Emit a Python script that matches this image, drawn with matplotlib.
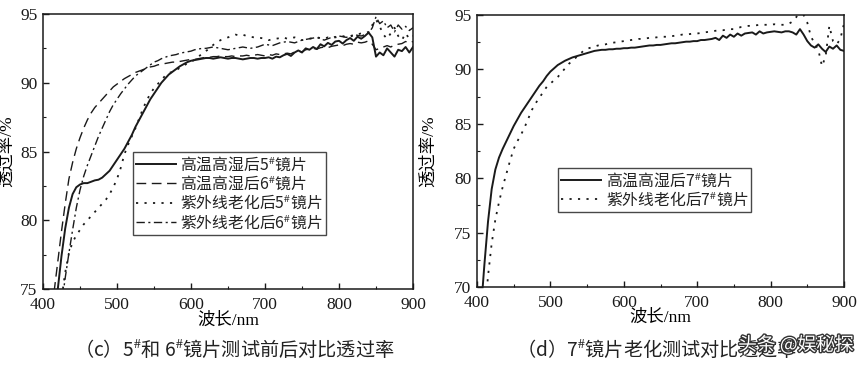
import matplotlib.pyplot as plt
import matplotlib.patheffects as pe
import numpy as np
from matplotlib.ticker import MultipleLocator

# 字体
plt.rcParams['font.family'] = ['Liberation Serif', 'Noto Sans CJK SC']
plt.rcParams['mathtext.fontset'] = 'stix'
plt.rcParams['font.size'] = 12

# ---------------- 数据 (c) ----------------
wl_c = np.arange(415, 901, 5)
t_hot5 = [72.5, 75.0, 77.4, 79.4, 80.9, 81.9, 82.4, 82.6, 82.7, 82.7, 82.8, 82.9,
          82.95, 83.1, 83.35, 83.6, 84.0, 84.4, 84.8, 85.2, 85.7, 86.2, 86.8, 87.3,
          87.8, 88.3, 88.8, 89.2, 89.6, 90.0, 90.3, 90.6, 90.8, 91.0, 91.2, 91.35,
          91.5, 91.6, 91.65, 91.7, 91.75, 91.8, 91.8, 91.75, 91.8, 91.85, 91.8, 91.75,
          91.8, 91.8, 91.75, 91.7, 91.75, 91.8, 91.8, 91.75, 91.8, 91.8, 91.85, 91.75,
          91.9, 91.85, 92.0, 92.1, 91.95, 92.2, 92.35, 92.2, 92.5, 92.4, 92.6, 92.45,
          92.8, 92.65, 92.9, 92.75, 93.0, 93.05, 92.85, 93.1, 93.25, 93.05, 93.35, 93.2,
          93.4, 93.65, 93.3, 91.9, 92.2, 92.0, 92.5, 92.2, 91.9, 92.4, 92.3, 92.6, 92.2, 92.6]
t_hot6 = [74.8, 77.0, 79.2, 81.2, 83.0, 84.2, 85.2, 86.0, 86.7, 87.3, 87.8, 88.2,
          88.5, 88.8, 89.1, 89.4, 89.7, 89.9, 90.1, 90.3, 90.45, 90.6, 90.75, 90.85,
          90.95, 91.05, 91.15, 91.2, 91.3, 91.35, 91.4, 91.45, 91.5, 91.5, 91.55, 91.6,
          91.65, 91.7, 91.7, 91.75, 91.8, 91.85, 91.85, 91.9, 91.9, 91.95, 91.9, 91.9,
          91.95, 91.9, 91.95, 91.95, 92.0, 91.95, 92.0, 92.05, 92.0, 91.95, 92.05, 92.0,
          92.1, 92.05, 92.1, 92.15, 92.1, 92.25, 92.3, 92.25, 92.4, 92.45, 92.5, 92.45,
          92.55, 92.6, 92.55, 92.65, 92.7, 92.75, 92.7, 92.8, 92.85, 92.8, 92.95, 92.9,
          92.95, 93.05, 92.8, 92.4, 92.5, 92.6, 92.7, 92.6, 92.75, 92.8, 92.85, 93.0, 92.9, 93.0]
t_uv5 = [69.5, 72.0, 74.3, 76.2, 77.6, 78.4, 78.9, 79.3, 79.7, 80.0, 80.3, 80.6,
         80.9, 81.2, 81.5, 81.9, 82.4, 83.0, 83.8, 84.8, 85.5, 86.1, 86.7, 87.4,
         88.1, 88.7, 89.2, 89.6, 89.9, 90.2, 90.5, 90.7, 90.8, 90.9, 91.1, 91.25,
         91.4, 91.5, 91.7, 91.9, 92.1, 92.3, 92.5, 92.75, 92.95, 93.1, 93.2, 93.3,
         93.4, 93.5, 93.45, 93.5, 93.4, 93.35, 93.3, 93.3, 93.25, 93.2, 93.1, 93.15,
         93.2, 93.25, 93.3, 93.2, 93.25, 93.3, 93.2, 93.1, 93.15, 93.2, 93.25, 93.3,
         93.25, 93.2, 93.3, 93.25, 93.3, 93.35, 93.4, 93.3, 93.35, 93.45, 93.5, 93.6,
         93.6, 93.7, 94.2, 94.6, 94.1, 93.5, 93.2, 93.6, 94.0, 93.4, 93.1, 93.6, 93.2, 93.4]
t_uv6 = [69.0, 71.5, 73.8, 75.8, 77.6, 79.3, 80.9, 82.2, 83.2, 84.0, 84.7, 85.4,
         86.1, 86.7, 87.3, 87.9, 88.4, 88.8, 89.2, 89.55, 89.9, 90.2, 90.5, 90.7,
         90.9, 91.1, 91.3, 91.5, 91.6, 91.75, 91.85, 91.95, 92.0, 92.05, 92.15, 92.2,
         92.25, 92.3, 92.4, 92.45, 92.5, 92.5, 92.55, 92.6, 92.55, 92.5, 92.45, 92.4,
         92.45, 92.5, 92.55, 92.6, 92.55, 92.5, 92.55, 92.6, 92.7, 92.8, 92.75, 92.7,
         92.8, 92.9, 92.95, 93.0, 92.95, 92.9, 93.0, 93.1, 93.15, 93.2, 93.25, 93.3,
         93.2, 93.1, 93.2, 93.3, 93.35, 93.4, 93.35, 93.3, 93.4, 93.5, 93.45, 93.4,
         93.5, 93.6, 94.0, 94.8, 94.3, 94.5, 94.0, 94.2, 93.7, 94.2, 93.9, 94.1, 93.8, 94.0]

# ---------------- 数据 (d) ----------------
wl_d = np.arange(405, 901, 5)
t_hot7 = [67.5, 72.0, 76.0, 79.0, 80.8, 81.9, 82.7, 83.4, 84.1, 84.8, 85.4, 86.0,
          86.5, 87.0, 87.5, 88.0, 88.5, 88.9, 89.4, 89.8, 90.1, 90.4, 90.6, 90.8,
          90.95, 91.1, 91.2, 91.3, 91.4, 91.5, 91.6, 91.7, 91.75, 91.8, 91.8, 91.85,
          91.85, 91.9, 91.9, 91.95, 91.95, 92.0, 92.0, 92.05, 92.1, 92.15, 92.2, 92.2,
          92.25, 92.25, 92.3, 92.35, 92.4, 92.4, 92.45, 92.5, 92.55, 92.55, 92.6, 92.6,
          92.7, 92.7, 92.75, 92.8, 92.9, 92.7, 93.1, 92.9, 93.2, 93.0, 93.3, 93.1,
          93.3, 93.35, 93.4, 93.2, 93.5, 93.3, 93.4, 93.45, 93.5, 93.45, 93.4, 93.5,
          93.5, 93.4, 93.2, 93.7, 93.2, 92.6, 92.2, 92.0, 92.3, 91.9, 91.6, 92.1,
          91.9, 92.2, 91.8, 91.7]
t_uv7 = [62.0, 67.0, 71.0, 74.0, 76.2, 77.8, 79.2, 80.4, 81.6, 82.7, 83.4,
         84.0, 84.7, 85.5, 86.3, 86.9, 87.4, 87.9, 88.4, 88.7, 89.0, 89.3, 89.7,
         90.1, 90.5, 90.8, 91.1, 91.4, 91.7, 91.9, 92.0, 92.1, 92.2, 92.25, 92.3,
         92.4, 92.45, 92.5, 92.55, 92.6, 92.65, 92.7, 92.75, 92.8, 92.8, 92.85, 92.9,
         92.9, 92.95, 93.0, 93.0, 93.0, 93.05, 93.1, 93.15, 93.2, 93.2, 93.25, 93.3,
         93.3, 93.35, 93.4, 93.45, 93.5, 93.55, 93.6, 93.6, 93.65, 93.7, 93.7, 93.8,
         93.9, 93.95, 94.0, 94.0, 94.05, 94.1, 94.1, 94.1, 94.1, 94.15, 94.1, 94.1,
         94.1, 94.2, 94.4, 94.8, 95.6, 95.0, 94.3, 93.0, 92.4, 91.8, 90.3, 91.2,
         94.0, 92.6, 92.3, 92.8, 94.2]

labels_c = ['高温高湿后5$^{\\#}$镜片', '高温高湿后6$^{\\#}$镜片',
            '紫外线老化后5$^{\\#}$镜片', '紫外线老化后6$^{\\#}$镜片']
labels_d = ['高温高湿后7$^{\\#}$镜片', '紫外线老化后7$^{\\#}$镜片']
caption_c = '（c）5$^{\\#}$和 6$^{\\#}$镜片测试前后对比透过率'
caption_d = '（d）7$^{\\#}$镜片老化测试对比透过率'

W, H = 858, 365
fig = plt.figure(figsize=(W / 100, H / 100), dpi=100)
fig.patch.set_facecolor('white')

ink = '#1a1a1a'
cjk = ['Noto Sans CJK SC', 'DejaVu Sans']
styles = [dict(ls='-', lw=1.4),
          dict(ls=(0, (7, 4)), lw=1.0),
          dict(ls=(0, (1.2, 3.5)), lw=1.3),
          dict(ls=(0, (6, 2.5, 1.5, 2.5)), lw=1.0)]


def setup(ax, ymin, yminor):
    ax.set_xlim(400, 900)
    ax.set_ylim(ymin, 95)
    ax.xaxis.set_major_locator(MultipleLocator(100))
    ax.xaxis.set_minor_locator(MultipleLocator(50))
    ax.yaxis.set_major_locator(MultipleLocator(5))
    ax.yaxis.set_minor_locator(MultipleLocator(yminor))
    ax.tick_params(which='both', direction='in', top=False, right=False,
                   colors=ink, labelsize=12.5)
    ax.tick_params(axis='x', pad=6)
    ax.tick_params(axis='y', pad=4)
    ax.tick_params(which='major', length=4, width=1)
    ax.tick_params(which='minor', length=2.5, width=0.8)
    for s in ax.spines.values():
        s.set_linewidth(1.1)
        s.set_color(ink)
    ax.set_xlabel('波长/nm', fontsize=12.5)
    ax.set_ylabel('透过率/%', fontsize=12.5)


def add_legend(ax, x0, y0):
    leg = ax.legend(loc='upper left', bbox_to_anchor=(x0 / W, 1 - y0 / H),
                    bbox_transform=fig.transFigure,
                    prop={'family': cjk, 'size': 11.4}, frameon=True,
                    fancybox=False, edgecolor=ink, handlelength=2.5,
                    handletextpad=0.3, labelspacing=0.05, borderpad=0.2,
                    borderaxespad=0)
    leg.get_frame().set_linewidth(1.0)
    for txt in leg.get_texts():
        txt.set_color('#222222')
    return leg


# (c)
ax1 = fig.add_axes([43 / W, 1 - 289 / H, 370 / W, 275 / H])
for t, lab, st in zip([t_hot5, t_hot6, t_uv5, t_uv6], labels_c, styles):
    ax1.plot(wl_c, t, color=ink, label=lab, **st)
setup(ax1, 75, 2.5)
ax1.yaxis.set_label_coords(-0.075, 0.5)
ax1.xaxis.set_label_coords(0.5, -0.085)
add_legend(ax1, 133, 152)

# (d)
ax2 = fig.add_axes([477 / W, 1 - 287 / H, 367 / W, 272 / H])
for t, lab, st in zip([t_hot7, t_uv7], labels_d, [styles[0], styles[2]]):
    ax2.plot(wl_d, t, color=ink, label=lab, **st)
setup(ax2, 70, 2.5)
ax2.yaxis.set_label_coords(-0.108, 0.5)
ax2.xaxis.set_label_coords(0.5, -0.085)
add_legend(ax2, 558, 168)

# 图注
fig.text(234 / W, 1 - 350 / H, caption_c, ha='center', va='center',
         fontsize=13.8, family=cjk, color='#222222')
fig.text(516 / W, 1 - 350 / H, caption_d, ha='left', va='center',
         fontsize=13.8, family=cjk, color='#222222')

# 水印
fig.text(796 / W, 1 - 345 / H, '头条 @娱秘探', ha='center', va='center',
         fontsize=13.5, family=cjk, color='white',
         path_effects=[pe.withStroke(linewidth=2, foreground='#333333')])

fig.savefig('out.png', dpi=100, facecolor='white')
